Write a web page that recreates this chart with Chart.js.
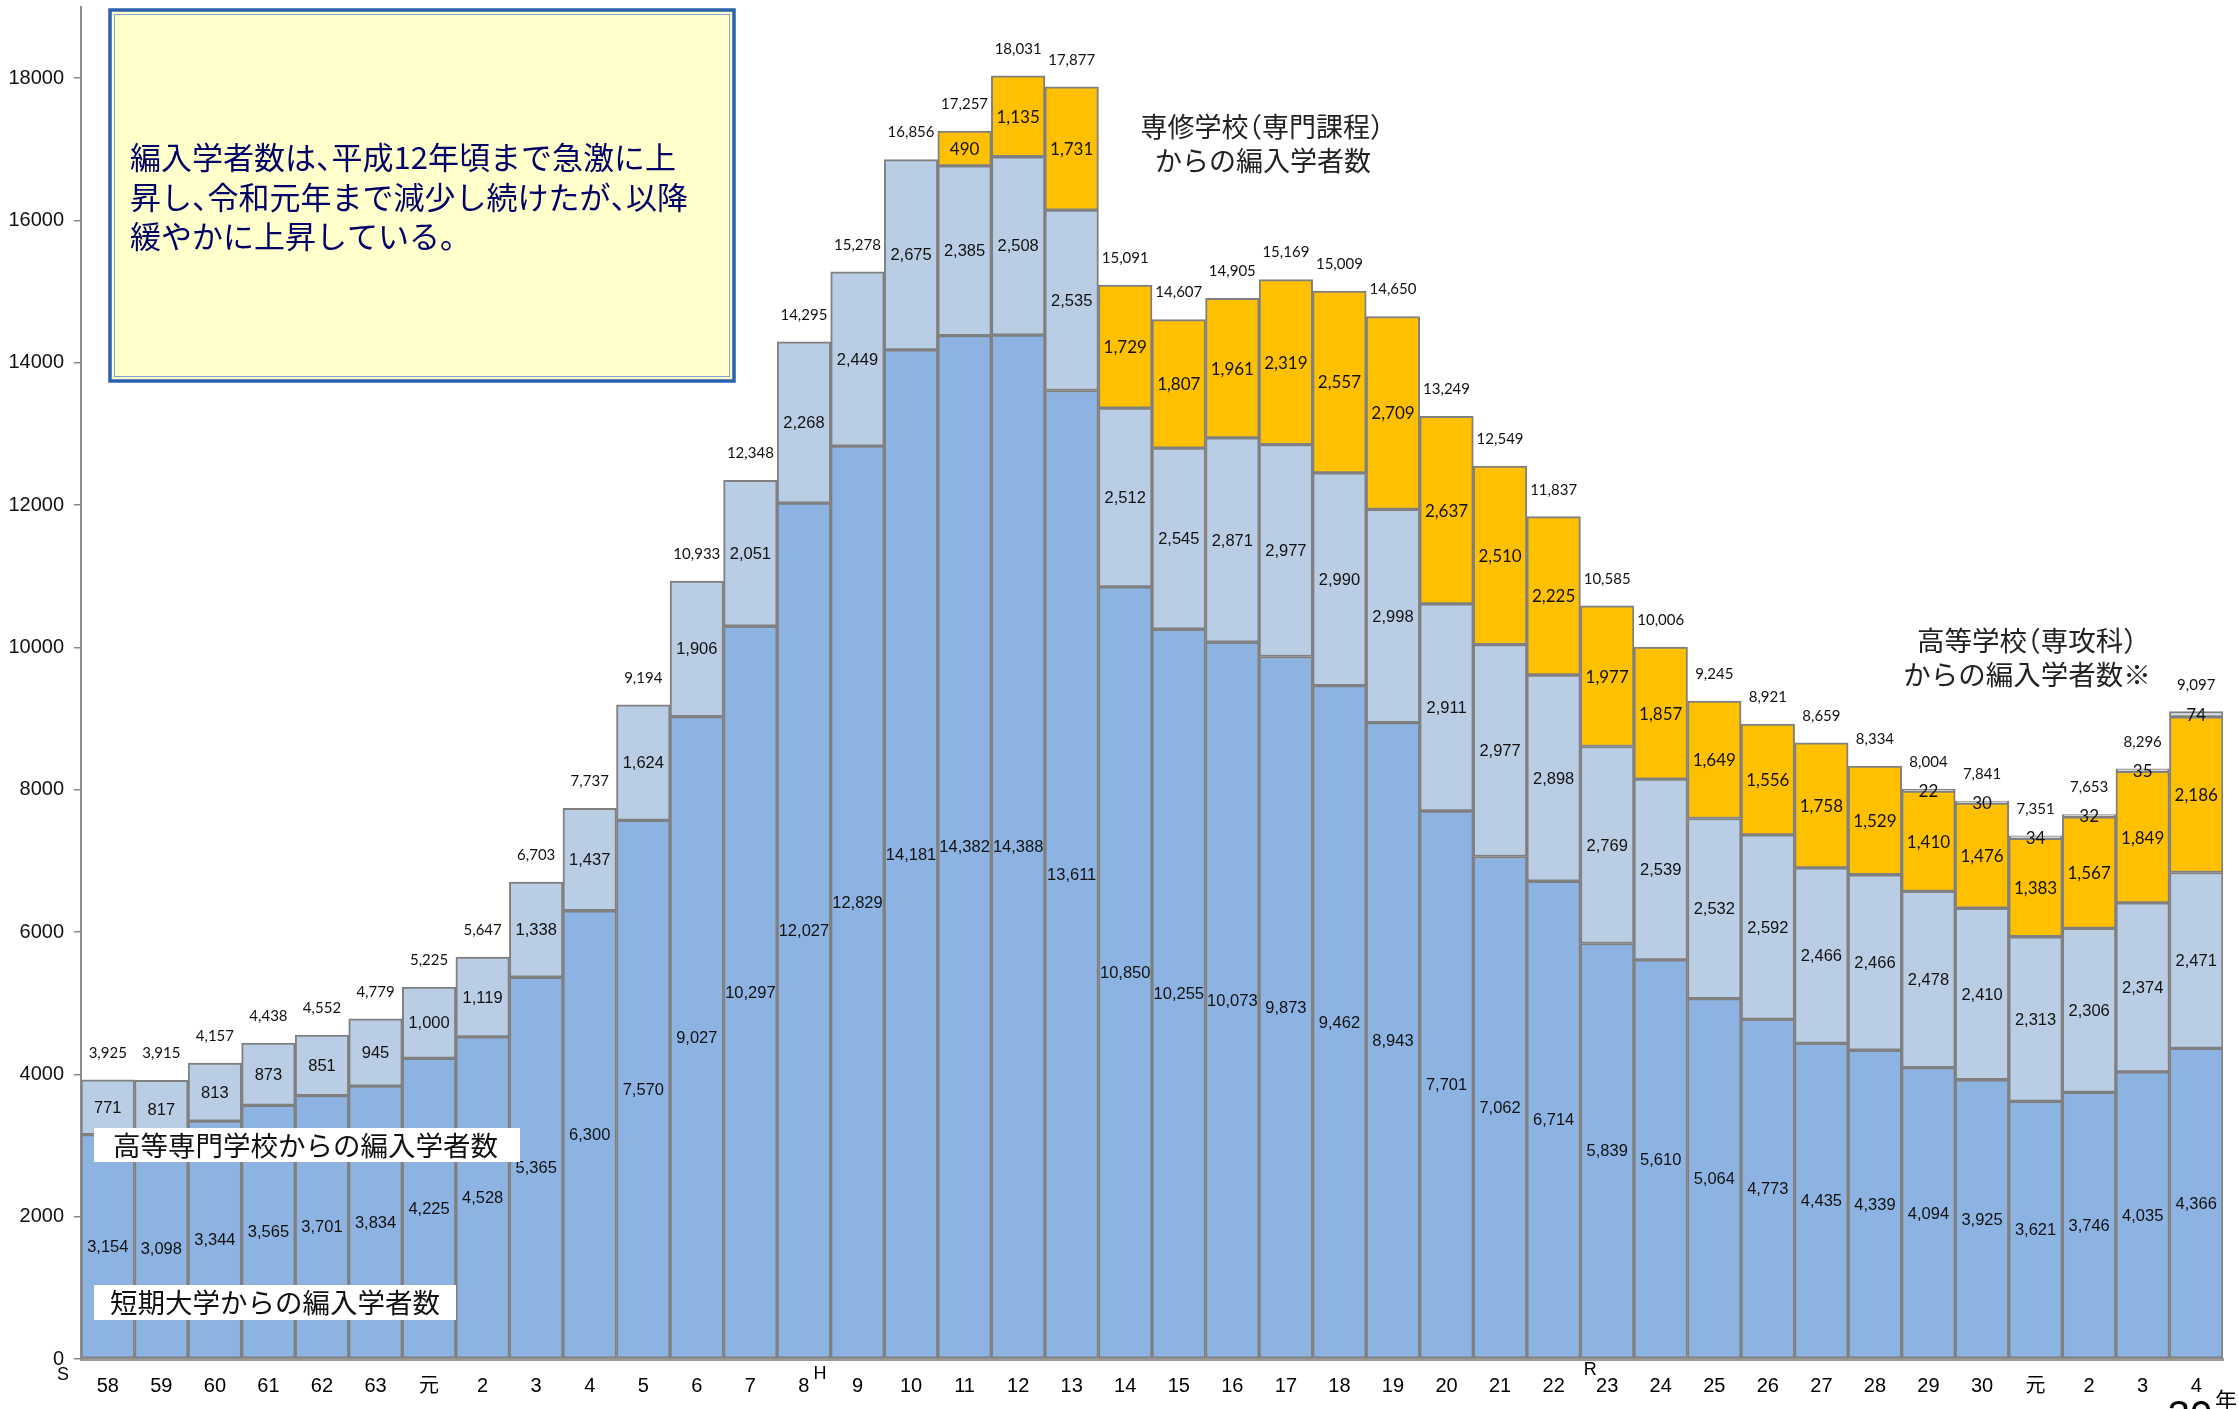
<!DOCTYPE html>
<html>
<head>
<meta charset="utf-8">
<script src="https://cdn.jsdelivr.net/npm/chart.js@4.4.1/dist/chart.umd.min.js"></script>
<style>
  html, body { margin: 0; padding: 0; background: #fff; }
  #chart { display: block; }
</style>
</head>
<body>
<canvas id="chart" width="2239" height="1409"></canvas>
<script>
// DATA
const xlabels = ['58','59','60','61','62','63','元','2','3','4','5','6','7','8','9','10','11','12','13',
  '14','15','16','17','18','19','20','21','22','23','24','25','26','27','28','29','30','元','2','3','4'];

// 短期大学
const yTandai = [3154,3098,3344,3565,3701,3834,4225,4528,5365,6300,7570,9027,10297,12027,12829,14181,14382,14388,13611,
  10850,10255,10073,9873,9462,8943,7701,7062,6714,5839,5610,5064,4773,4435,4339,4094,3925,3621,3746,4035,4366];
// 高等専門学校
const yKosen = [771,817,813,873,851,945,1000,1119,1338,1437,1624,1906,2051,2268,2449,2675,2385,2508,2535,
  2512,2545,2871,2977,2990,2998,2911,2977,2898,2769,2539,2532,2592,2466,2466,2478,2410,2313,2306,2374,2471];
// 専修学校（専門課程）
const ySenshu = [0,0,0,0,0,0,0,0,0,0,0,0,0,0,0,0,490,1135,1731,
  1729,1807,1961,2319,2557,2709,2637,2510,2225,1977,1857,1649,1556,1758,1529,1410,1476,1383,1567,1849,2186];
// 高等学校（専攻科）
const ySenkou = [0,0,0,0,0,0,0,0,0,0,0,0,0,0,0,0,0,0,0,
  0,0,0,0,0,0,0,0,0,0,0,0,0,0,0,22,30,34,32,35,74];
// 合計（図中の表示値）
const yTotal = [3925,3915,4157,4438,4552,4779,5225,5647,6703,7737,9194,10933,12348,14295,15278,16856,17257,18031,17877,
  15091,14607,14905,15169,15009,14650,13249,12549,11837,10585,10006,9245,8921,8659,8334,8004,7841,7351,7653,8296,9097];

const yTicks = [0,2000,4000,6000,8000,10000,12000,14000,16000,18000];

const tandaiCol = '#8DB3E2';
const kosenCol = '#B9CDE5';
const senshuCol = '#FFC000';
const senkouCol = '#DCE6F2';
const edgeCol = '#808080';

const jp = "'Noto Sans CJK JP', sans-serif";

function fmt(v) { return v.toLocaleString('en-US'); }

// draws japanese text with half-width punctuation (like proportional fonts)
function drawPalt(c, text, x, y, align) {
  const em = parseFloat(c.font);
  const adv = ch => ('、。）（'.includes(ch) ? em * 0.5 : c.measureText(ch).width);
  let w = 0;
  for (const ch of text) w += adv(ch);
  let px = align === 'center' ? x - w / 2 : x;
  c.save();
  c.textAlign = 'left';
  for (const ch of text) {
    c.fillText(ch, ch === '（' ? px - em * 0.5 : px, y);
    px += adv(ch);
  }
  c.restore();
}

// labels inside the bars + totals + notes
const labelPlugin = {
  id: 'labels',
  afterDatasetsDraw(chart) {
    const ctx = chart.ctx;
    const ys = chart.scales.y;
    ctx.save();
    ctx.textAlign = 'center';
    ctx.textBaseline = 'middle';
    ctx.fillStyle = '#111';
    chart.data.datasets.forEach((ds, i) => {
      const meta = chart.getDatasetMeta(i);
      ctx.font = (i < 2) ? "16.5px 'Liberation Sans', Arial, sans-serif" : "17px Lato, sans-serif";
      meta.data.forEach((bar, j) => {
        const v = ds.data[j];
        if (!v) return;
        ctx.fillText(fmt(v), bar.x, (bar.y + bar.base) / 2 + 1);
      });
    });
    // totals
    ctx.font = "15px Lato, sans-serif";
    const meta0 = chart.getDatasetMeta(0);
    yTotal.forEach((t, j) => {
      const sum = yTandai[j] + yKosen[j] + ySenshu[j] + ySenkou[j];
      ctx.fillText(fmt(t), meta0.data[j].x, ys.getPixelForValue(sum) - 27);
    });

    // white legend boxes on the bars
    ctx.fillStyle = '#fff';
    ctx.fillRect(94, 1128, 426, 34);
    ctx.fillRect(94, 1285, 362, 35);
    ctx.fillStyle = '#111';
    ctx.font = "27.5px " + jp;
    drawPalt(ctx, '高等専門学校からの編入学者数', 113, 1146, 'left');
    drawPalt(ctx, '短期大学からの編入学者数', 110, 1303, 'left');

    // notes
    ctx.fillStyle = '#222';
    ctx.font = "27px " + jp;
    drawPalt(ctx, '専修学校（専門課程）', 1262, 127, 'center');
    drawPalt(ctx, 'からの編入学者数', 1263, 161, 'center');
    ctx.font = "27.5px " + jp;
    drawPalt(ctx, '高等学校（専攻科）', 2027, 641, 'center');
    drawPalt(ctx, 'からの編入学者数※', 2027, 675, 'center');

    // summary box
    ctx.fillStyle = '#FFFFCC';
    ctx.fillRect(110, 10, 624, 371);
    ctx.strokeStyle = '#2A62AC';
    ctx.lineWidth = 3.5;
    ctx.strokeRect(110, 10, 624, 371);
    ctx.strokeStyle = '#7FA3D4';
    ctx.lineWidth = 1;
    ctx.strokeRect(114.5, 14.5, 615, 362);
    ctx.fillStyle = '#000066';
    ctx.font = "31px " + jp;
    drawPalt(ctx, '編入学者数は、平成12年頃まで急激に上', 130, 157, 'left');
    drawPalt(ctx, '昇し、令和元年まで減少し続けたが、以降', 130, 197, 'left');
    drawPalt(ctx, '緩やかに上昇している。', 130, 236, 'left');

    // era marks on the x axis
    const xs = chart.scales.x;
    ctx.fillStyle = '#000';
    ctx.textAlign = 'center';
    ctx.font = "18px 'Liberation Sans', Arial, sans-serif";
    ctx.fillText('S', xs.left - 18, 1375);
    ctx.fillText('H', xs.getPixelForValue(13) + 16, 1374);
    ctx.fillText('R', xs.getPixelForValue(28) - 17, 1370);
    ctx.textBaseline = 'alphabetic';
    ctx.font = "40px 'Liberation Sans', Arial, sans-serif";
    ctx.fillText('30', 2190, 1429);
    ctx.textAlign = 'left';
    ctx.textBaseline = 'middle';
    ctx.font = "22px " + jp;
    ctx.fillText('年', 2215, 1400);
    ctx.restore();
  }
};

const ctx = document.getElementById('chart').getContext('2d');
const myChart = new Chart(ctx, {
  type: 'bar',
  data: {
    labels: xlabels,
    datasets: [
      { label: '短期大学からの編入学者数', data: yTandai, backgroundColor: tandaiCol },
      { label: '高等専門学校からの編入学者数', data: yKosen, backgroundColor: kosenCol },
      { label: '専修学校（専門課程）からの編入学者数', data: ySenshu, backgroundColor: senshuCol },
      { label: '高等学校（専攻科）からの編入学者数', data: ySenkou, backgroundColor: senkouCol }
    ].map(d => Object.assign(d, {
      borderColor: edgeCol,
      borderWidth: 2,
      borderSkipped: false,
      barPercentage: 1.0,
      categoryPercentage: 1.0
    }))
  },
  options: {
    responsive: false,
    animation: false,
    devicePixelRatio: 1,
    layout: { padding: { top: 7, right: 16, left: 0, bottom: 0 } },
    plugins: { legend: { display: false }, tooltip: { enabled: false } },
    scales: {
      x: {
        stacked: true,
        grid: { display: false },
        border: { display: true, color: '#9A9A9A', width: 3 },
        ticks: {
          color: '#000',
          padding: 7,
          maxRotation: 0,
          autoSkip: false,
          font: { family: "'Liberation Sans', Arial, 'Noto Sans CJK JP', sans-serif", size: 20 }
        },
        afterFit(scale) { scale.height = 50; }
      },
      y: {
        stacked: true,
        min: 0,
        max: 19000,
        grid: { drawOnChartArea: false, drawTicks: true, tickLength: 7, color: '#888', lineWidth: 1.5 },
        border: { display: true, color: '#8C8C8C', width: 2 },
        ticks: {
          stepSize: 2000,
          color: '#111',
          padding: 10,
          font: { family: "'Liberation Sans', Arial, sans-serif", size: 20 },
          callback: v => String(v)
        },
        afterBuildTicks(scale) {
          scale.ticks = yTicks.map(v => ({ value: v }));
        },
        afterFit(scale) {
          scale.width = 81;
          scale.paddingTop = 0;
          scale.paddingBottom = 0;
        }
      }
    }
  },
  plugins: [labelPlugin]
});
</script>
</body>
</html>
